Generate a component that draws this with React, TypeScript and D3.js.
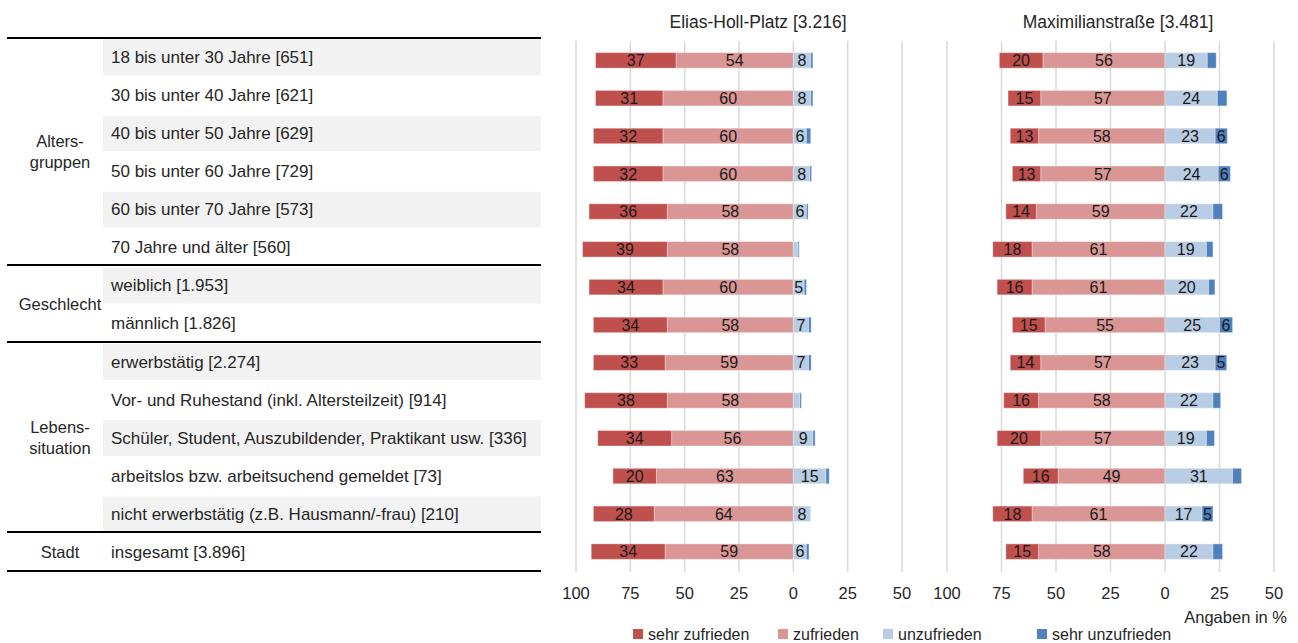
import React from "react";
import * as d3 from "d3";

const rowLabels = [
  "18 bis unter 30 Jahre [651]",
  "30 bis unter 40 Jahre [621]",
  "40 bis unter 50 Jahre [629]",
  "50 bis unter 60 Jahre [729]",
  "60 bis unter 70 Jahre [573]",
  "70 Jahre und älter [560]",
  "weiblich [1.953]",
  "männlich [1.826]",
  "erwerbstätig [2.274]",
  "Vor- und Ruhestand (inkl. Altersteilzeit) [914]",
  "Schüler, Student, Auszubildender, Praktikant usw. [336]",
  "arbeitslos bzw. arbeitsuchend gemeldet [73]",
  "nicht erwerbstätig (z.B. Hausmann/-frau) [210]",
  "insgesamt [3.896]",
];

const groups = [
  { lines: ["Alters-", "gruppen"], start: 0, end: 5 },
  { lines: ["Geschlecht"], start: 6, end: 7 },
  { lines: ["Lebens-", "situation"], start: 8, end: 12 },
  { lines: ["Stadt"], start: 13, end: 13 },
];

const keys = ["sehrZufrieden", "zufrieden", "unzufrieden", "sehrUnzufrieden"];
const legendLabels = ["sehr zufrieden", "zufrieden", "unzufrieden", "sehr unzufrieden"];
const colors = ["#c0504d", "#da9694", "#b8cce4", "#4f81bd"];

// Elias-Holl-Platz [3.216]
const ehSehrZufrieden = [37, 31, 32, 32, 36, 39, 34, 34, 33, 38, 34, 20, 28, 34];
const ehZufrieden = [54, 60, 60, 60, 58, 58, 60, 58, 59, 58, 56, 63, 64, 59];
const ehUnzufrieden = [8, 8, 6, 7.6, 6, 2.2, 5, 7, 7, 3, 9, 15, 8, 6];
const ehSehrUnzufrieden = [1, 1, 2, 0.8, 0.8, 0.5, 1, 1.2, 1.2, 0.7, 1, 1.5, 0, 1.2];

// Maximilianstraße [3.481]
const mxSehrZufrieden = [20, 15, 13, 13, 14, 18, 16, 15, 14, 16, 20, 16, 18, 15];
const mxZufrieden = [56, 57, 58, 57, 59, 61, 61, 55, 57, 58, 57, 49, 61, 58];
const mxUnzufrieden = [19.4, 24, 23, 24.4, 22, 19, 20, 25, 23, 22, 19, 31, 17, 22];
const mxSehrUnzufrieden = [4.1, 4.4, 5.6, 5.6, 4.4, 3, 2.9, 6, 5.3, 3.5, 3.7, 4.1, 5, 4.4];

const panels = [
  {
    title: "Elias-Holl-Platz [3.216]",
    titleX: 758,
    range: [576, 902],
    values: [ehSehrZufrieden, ehZufrieden, ehUnzufrieden, ehSehrUnzufrieden],
  },
  {
    title: "Maximilianstraße [3.481]",
    titleX: 1118,
    range: [947, 1274],
    values: [mxSehrZufrieden, mxZufrieden, mxUnzufrieden, mxSehrUnzufrieden],
  },
];

const axisTicks = [-100, -75, -50, -25, 0, 25, 50];

const FONT = "'Liberation Sans', Arial, sans-serif";
const TEXT = "#262626";

export default function App() {
  const W = 1298;
  const H = 643;
  const idx = rowLabels.map((_, i) => i);
  const tableY = d3.scaleBand<number>().domain(idx).range([38, 571]);
  const barY = d3.scaleBand<number>().domain(idx).range([41.5, 570.5]);
  const barH = 15.5;

  const sepLines = [38, 265, 342, 532, 571];

  return (
    <svg
      width={W}
      height={H}
      style={{ position: "absolute", left: 0, top: 0, display: "block", background: "#fff" }}
      fontFamily={FONT}
    >
      {/* table */}
      {idx.map((i) =>
        i % 2 === 0 ? (
          <rect
            key={"bg" + i}
            x={103}
            y={tableY(i)! + 1.5}
            width={438}
            height={tableY.bandwidth() - 2.5}
            fill="#f2f2f2"
          />
        ) : null
      )}
      {sepLines.map((y, i) => (
        <line key={"sep" + i} x1={7} x2={541} y1={y} y2={y} stroke="#000" strokeWidth={2} />
      ))}
      {rowLabels.map((t, i) => (
        <text
          key={"rl" + i}
          x={111}
          y={tableY(i)! + tableY.bandwidth() / 2}
          dy="0.35em"
          fontSize={17}
          fill={TEXT}
        >
          {t}
        </text>
      ))}
      {groups.map((g, gi) => {
        const y0 = tableY(g.start)!;
        const y1 = tableY(g.end)! + tableY.bandwidth();
        const cy = (y0 + y1) / 2;
        const lh = 21;
        return (
          <text key={"g" + gi} x={60} textAnchor="middle" fontSize={16.5} fill={TEXT}>
            {g.lines.map((l, li) => (
              <tspan
                key={li}
                x={60}
                y={cy + (li - (g.lines.length - 1) / 2) * lh}
                dy="0.35em"
              >
                {l}
              </tspan>
            ))}
          </text>
        );
      })}

      {/* panels */}
      {panels.map((p, pi) => {
        const x = d3.scaleLinear().domain([-100, 50]).range(p.range);
        const rows = idx.map((i) => ({
          sehrZufrieden: -p.values[0][i],
          zufrieden: -p.values[1][i],
          unzufrieden: p.values[2][i],
          sehrUnzufrieden: p.values[3][i],
        }));
        const stack = d3
          .stack<any>()
          .keys(["zufrieden", "sehrZufrieden", "unzufrieden", "sehrUnzufrieden"])
          .offset(d3.stackOffsetDiverging);
        const series = stack(rows);
        return (
          <g key={"p" + pi}>
            <text x={p.titleX} y={22} dy="0.35em" textAnchor="middle" fontSize={17.5} fill={TEXT}>
              {p.title}
            </text>
            {axisTicks.map((t) => (
              <line
                key={"gl" + t}
                x1={x(t)}
                x2={x(t)}
                y1={41}
                y2={572}
                stroke="#d9d9d9"
                strokeWidth={1.5}
              />
            ))}
            {axisTicks.map((t) => (
              <text
                key={"tl" + t}
                x={x(t)}
                y={593}
                dy="0.35em"
                textAnchor="middle"
                fontSize={16.5}
                fill={TEXT}
              >
                {Math.abs(t)}
              </text>
            ))}
            {series.map((s) => {
              const ci = keys.indexOf(s.key);
              return s.map((d, i) => {
                const v = Math.abs(d[1] - d[0]);
                if (v <= 0) return null;
                const x0 = x(Math.min(d[0], d[1]));
                const x1 = x(Math.max(d[0], d[1]));
                const cy = barY(i)! + barY.bandwidth() / 2;
                const lbl = Math.round(v);
                return (
                  <g key={s.key + i}>
                    <rect
                      x={x0}
                      y={cy - barH / 2}
                      width={x1 - x0}
                      height={barH}
                      fill={colors[ci]}
                      stroke="rgba(255,255,255,0.35)"
                      strokeWidth={1}
                    />
                    {lbl >= 5 ? (
                      <text
                        x={(x0 + x1) / 2}
                        y={cy}
                        dy="0.36em"
                        textAnchor="middle"
                        fontSize={16}
                        fill="#1a1a1a"
                      >
                        {lbl}
                      </text>
                    ) : null}
                  </g>
                );
              });
            })}
          </g>
        );
      })}

      <text x={1287} y={617} dy="0.35em" textAnchor="end" fontSize={16.5} fill={TEXT}>
        Angaben in %
      </text>

      {/* legend */}
      {legendLabels.map((l, i) => {
        const lx = [633, 778, 883, 1037][i];
        return (
          <g key={"lg" + i}>
            <rect x={lx} y={629} width={10} height={10} fill={colors[i]} />
            <text x={lx + 15} y={634} dy="0.35em" fontSize={16} fill={TEXT}>
              {l}
            </text>
          </g>
        );
      })}
    </svg>
  );
}
